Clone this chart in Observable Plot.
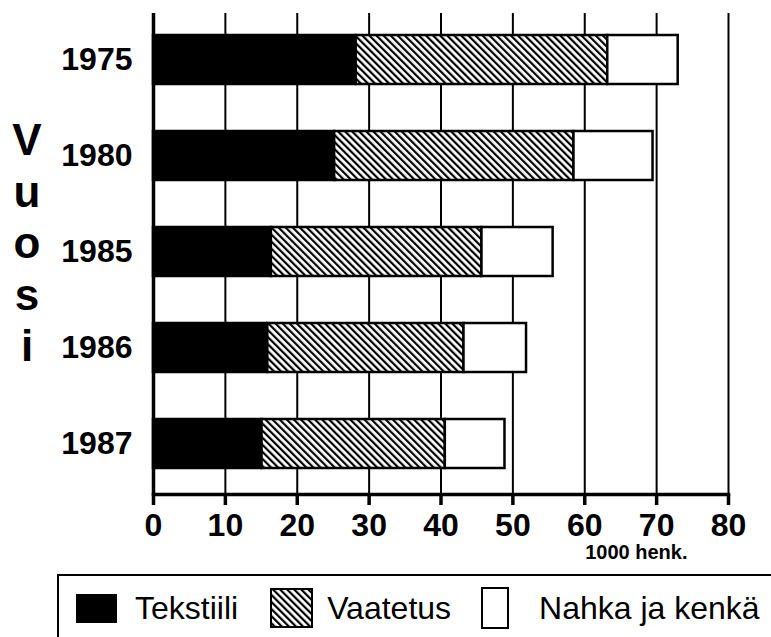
<!DOCTYPE html>
<html>
<head>
<meta charset="utf-8">
<script src="https://cdn.jsdelivr.net/npm/d3@7"></script>
<script src="https://cdn.jsdelivr.net/npm/@observablehq/plot@0.6"></script>
<style>
  html, body { margin: 0; padding: 0; background: #fff; overflow: hidden; }
  #wrap { position: relative; width: 771px; height: 637px; overflow: hidden;
          font-family: "Liberation Sans", Arial, Helvetica, sans-serif; color: #000; }
  #ytitle { position: absolute; left: 0; top: 114px; width: 54px; text-align: center;
            font-size: 44px; font-weight: bold; line-height: 51.5px; }
  #ytitle span { display: block; }
  #legend { position: absolute; left: 57px; top: 574px; width: 760px; height: 100px;
            border: 2px solid #000; box-sizing: border-box; }
  #legend .row { display: flex; align-items: center; height: 64px; padding-left: 17px;
                 font-size: 32px; white-space: nowrap; }
  #legend svg { display: block; flex: none; }
</style>
</head>
<body>
<div id="wrap">
  <div id="chart"></div>
  <div id="ytitle"></div>
  <div id="legend"><div class="row" id="legrow"></div></div>
</div>
<script>
// ---- data ----
const years = ["1975", "1980", "1985", "1986", "1987"];
const categories = ["Tekstiili", "Vaatetus", "Nahka ja kenkä"];
const tekstiili = [28.2, 25.2, 16.4, 15.9, 15.1];
const vaatetus  = [35.0, 33.3, 29.3, 27.3, 25.5];
const nahka     = [9.8, 11.0, 9.9, 8.7, 8.3];
const xTicks = [0, 10, 20, 30, 40, 50, 60, 70, 80];
const unitLabel = "1000 henk.";
const yTitle = "Vuosi";

const series = [tekstiili, vaatetus, nahka];
const data = years.flatMap((y, i) =>
  categories.map((c, j) => ({ year: y, cat: c, value: series[j][i] })));

const fills = ["black", "url(#hatch)", "white"];
const font = '"Liberation Sans", Arial, Helvetica, sans-serif';

const svg = Plot.plot({
  width: 771,
  height: 570,
  marginLeft: 153,
  marginRight: 43,
  marginTop: 13,
  marginBottom: 76,
  style: { fontFamily: font, background: "white", color: "black", overflow: "visible" },
  x: { domain: [0, 80], ticks: xTicks },
  y: { domain: years, range: [35, 470], paddingInner: 0.492, paddingOuter: 0, align: 0 },
  color: { domain: categories, range: fills },
  marks: [
    Plot.ruleX(xTicks.filter(d => d > 0), { stroke: "black", strokeWidth: 2 }),
    Plot.barX(data, Plot.stackX({ y: "year", x: "value", fill: "cat", stroke: "black", strokeWidth: 2.5 })),
    Plot.ruleX([0], { stroke: "black", strokeWidth: 3.5 }),
    Plot.frame({ anchor: "bottom", stroke: "black", strokeWidth: 3.5 }),
    Plot.axisX({ ticks: xTicks, tickSize: 11, tickPadding: 8, strokeWidth: 3.5,
                 fontSize: 32, fontWeight: "bold", label: null }),
    Plot.axisY({ tickSize: 0, tickPadding: 21, fontSize: 32, fontWeight: "bold", label: null }),
    Plot.text([unitLabel], { text: d => d, frameAnchor: "bottom-right", textAnchor: "end",
                             lineAnchor: "bottom", dx: -41, dy: 64, fontSize: 20, fontWeight: "bold" })
  ]
});

// hatch pattern
function addHatch(svgEl, id) {
  const defs = d3.select(svgEl).insert("defs", ":first-child");
  const p = defs.append("pattern").attr("id", id).attr("patternUnits", "userSpaceOnUse")
    .attr("width", 5).attr("height", 5).attr("patternTransform", "rotate(-45)");
  p.append("rect").attr("width", 5).attr("height", 5).attr("fill", "white");
  p.append("rect").attr("width", 2.2).attr("height", 5).attr("fill", "black");
}
addHatch(svg, "hatch");
document.getElementById("chart").appendChild(svg);

// y title (stacked letters)
const yt = document.getElementById("ytitle");
for (const ch of yTitle) { const s = document.createElement("span"); s.textContent = ch; yt.appendChild(s); }

// legend
const sw = [
  { w: 41, h: 29, fill: "black", gapBefore: 0, gapAfter: 18 },
  { w: 43, h: 40, fill: "url(#hatchL)", gapBefore: 32, gapAfter: 14 },
  { w: 28, h: 42, fill: "white", gapBefore: 30, gapAfter: 30 }
];
const row = document.getElementById("legrow");
categories.forEach((c, i) => {
  const s = sw[i];
  const box = d3.create("svg").attr("width", s.w).attr("height", s.h)
    .style("margin-left", s.gapBefore + "px").style("margin-right", s.gapAfter + "px");
  if (i === 1) addHatch(box.node(), "hatchL");
  box.append("rect").attr("x", 1).attr("y", 1).attr("width", s.w - 2).attr("height", s.h - 2)
    .attr("fill", s.fill).attr("stroke", "black").attr("stroke-width", 2);
  row.appendChild(box.node());
  const t = document.createElement("span");
  t.textContent = c;
  row.appendChild(t);
});
</script>
</body>
</html>
